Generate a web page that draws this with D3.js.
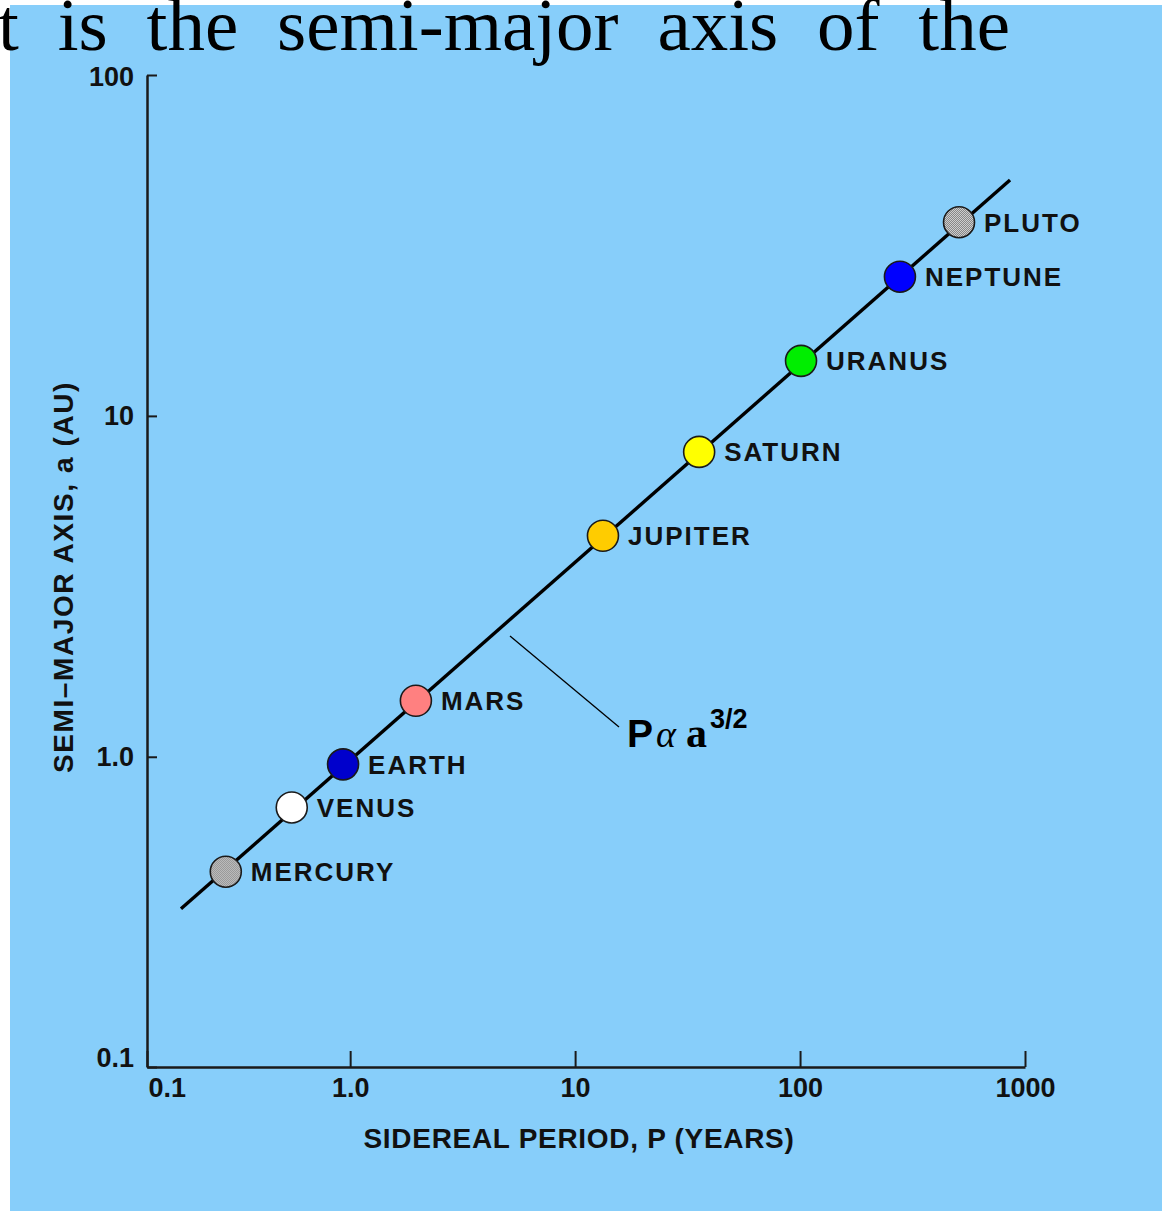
<!DOCTYPE html>
<html lang="en">
<head>
<meta charset="UTF-8" />
<title>Kepler's third law</title>
<script src="https://cdn.jsdelivr.net/npm/d3@7/dist/d3.min.js"></script>
<style>
  body { margin: 0; background: #fff; }
  svg { display: block; }
  .lbl { font-family: "Liberation Sans", Arial, sans-serif; font-weight: bold; fill: #111; }
</style>
</head>
<body>
<script>
// planets
const planets = ["MERCURY", "VENUS", "EARTH", "MARS", "JUPITER", "SATURN", "URANUS", "NEPTUNE", "PLUTO"];
const periods = [0.28, 0.55, 0.93, 1.96, 13.3, 35.6, 101, 278, 509];     // P (years)
const semiAxes = [0.46, 0.71, 0.95, 1.46, 4.45, 7.84, 14.5, 25.6, 37];  // a (AU)
const planetColors = ["dither", "#ffffff", "#0000cc", "#ff8080", "#ffcc00", "#ffff00", "#00ee00", "#0000ff", "dither"];

// the P ~ a^3/2 line, its two ends
const fitPeriods = [0.177, 858];
const fitAxes = [0.358, 49.2];

// the origin of both axes is labelled 0.1 in the picture
const xOrigin = 0.125, yOrigin = 0.123;
const xTickValues = [xOrigin, 1, 10, 100, 1000];
const xTickLabels = ["0.1", "1.0", "10", "100", "1000"];
const yTickValues = [yOrigin, 1, 10, 100];
const yTickLabels = ["0.1", "1.0", "10", "100"];

const W = 1162, H = 1211;

const svg = d3.select("body").append("svg")
  .attr("width", W).attr("height", H);

const defs = svg.append("defs");
const pat = defs.append("pattern").attr("id", "dither")
  .attr("patternUnits", "userSpaceOnUse").attr("width", 2).attr("height", 2);
pat.append("rect").attr("width", 2).attr("height", 2).attr("fill", "#e6e6e6");
pat.append("rect").attr("width", 1).attr("height", 1).attr("fill", "#6e6e6e");
pat.append("rect").attr("x", 1).attr("y", 1).attr("width", 1).attr("height", 1).attr("fill", "#6e6e6e");

// blue panel
svg.append("rect").attr("x", 10).attr("y", 5).attr("width", W - 10).attr("height", H - 5)
  .attr("fill", "#87cefa");

// bit of page text overlapping the top, justified out to x ~ 1010
const pageText = "t is the semi-major axis of the";
const topText = svg.append("text")
  .attr("x", -2).attr("y", 50)
  .style("font-family", "'Liberation Serif', 'Times New Roman', serif")
  .style("font-size", "75px")
  .attr("fill", "#000")
  .text(pageText);
const natural = topText.node().getComputedTextLength();
const gaps = pageText.split(" ").length - 1;
topText.style("word-spacing", Math.max(0, (1012 - natural) / gaps) + "px");

const x = d3.scaleLog().domain([xOrigin, 1000]).range([147, 1025]);
const y = d3.scaleLog().domain([yOrigin, 100]).range([1067, 75]);

// axes
const xAxis = svg.append("g").attr("transform", "translate(0,1067)")
  .call(d3.axisBottom(x).tickValues(xTickValues)
    .tickFormat((d, i) => xTickLabels[i])
    .tickSizeInner(-16).tickSizeOuter(0).tickPadding(11));

const yAxis = svg.append("g").attr("transform", "translate(147,0)")
  .call(d3.axisLeft(y).tickValues(yTickValues)
    .tickFormat((d, i) => yTickLabels[i])
    .tickSizeInner(-10).tickSizeOuter(0).tickPadding(13));

[xAxis, yAxis].forEach(g => {
  g.select(".domain").attr("stroke", "#1a1a1a").attr("stroke-width", 2.5);
  g.selectAll(".tick line").attr("stroke", "#1a1a1a").attr("stroke-width", 2);
  g.selectAll(".tick text").attr("class", "lbl").style("font-size", "27px");
});
xAxis.selectAll(".tick text").filter((d, i) => i === 0)
  .attr("text-anchor", "start").attr("x", 1);
yAxis.selectAll(".tick text").filter((d, i) => i === 0)
  .attr("y", -9);
yAxis.selectAll(".tick text").filter((d, i) => i === 3)
  .attr("y", 2);

// axis titles
svg.append("text").attr("class", "lbl")
  .attr("x", 579).attr("y", 1148)
  .attr("text-anchor", "middle")
  .style("font-size", "28px").style("letter-spacing", "0.7px")
  .text("SIDEREAL PERIOD, P (YEARS)");

svg.append("text").attr("class", "lbl")
  .attr("transform", "translate(73,577) rotate(-90)")
  .attr("text-anchor", "middle")
  .style("font-size", "28px").style("letter-spacing", "1.6px")
  .text("SEMI\u2013MAJOR AXIS, a (AU)");

// fitted line
const line = d3.line().x(d => x(d[0])).y(d => y(d[1]));
svg.append("path")
  .datum(fitPeriods.map((p, i) => [p, fitAxes[i]]))
  .attr("d", line)
  .attr("fill", "none").attr("stroke", "#000").attr("stroke-width", 3.4);

// leader to the formula
svg.append("line")
  .attr("x1", 510).attr("y1", 636).attr("x2", 619).attr("y2", 727)
  .attr("stroke", "#000").attr("stroke-width", 1.3);

const formula = svg.append("text").attr("x", 627).attr("y", 747).attr("fill", "#000");
formula.append("tspan")
  .style("font-family", "'Liberation Sans', Arial, sans-serif").style("font-weight", "bold")
  .style("font-size", "39px").text("P");
formula.append("tspan")
  .style("font-family", "'Liberation Serif', serif").style("font-style", "italic")
  .style("font-size", "38px").attr("dx", 3).text("\u03b1");
formula.append("tspan")
  .style("font-family", "'Liberation Serif', serif").style("font-weight", "bold")
  .style("font-size", "42px").attr("dx", 10).text("a");
formula.append("tspan")
  .style("font-family", "'Liberation Sans', Arial, sans-serif").style("font-weight", "bold")
  .style("font-size", "27px").attr("dx", 3).attr("dy", -19).text("3/2");

// planets
const pts = svg.append("g").selectAll("g")
  .data(planets.map((name, i) => ({ name, p: periods[i], a: semiAxes[i], c: planetColors[i] })))
  .join("g")
  .attr("transform", d => `translate(${x(d.p)},${y(d.a)})`);

pts.append("circle")
  .attr("r", 15.5)
  .attr("fill", d => d.c === "dither" ? "url(#dither)" : d.c)
  .attr("stroke", "#1a1a1a").attr("stroke-width", 1.6);

pts.append("text").attr("class", "lbl")
  .attr("x", 25).attr("dy", "0.36em")
  .style("font-size", "26px").style("letter-spacing", "2px")
  .text(d => d.name);
</script>
</body>
</html>
